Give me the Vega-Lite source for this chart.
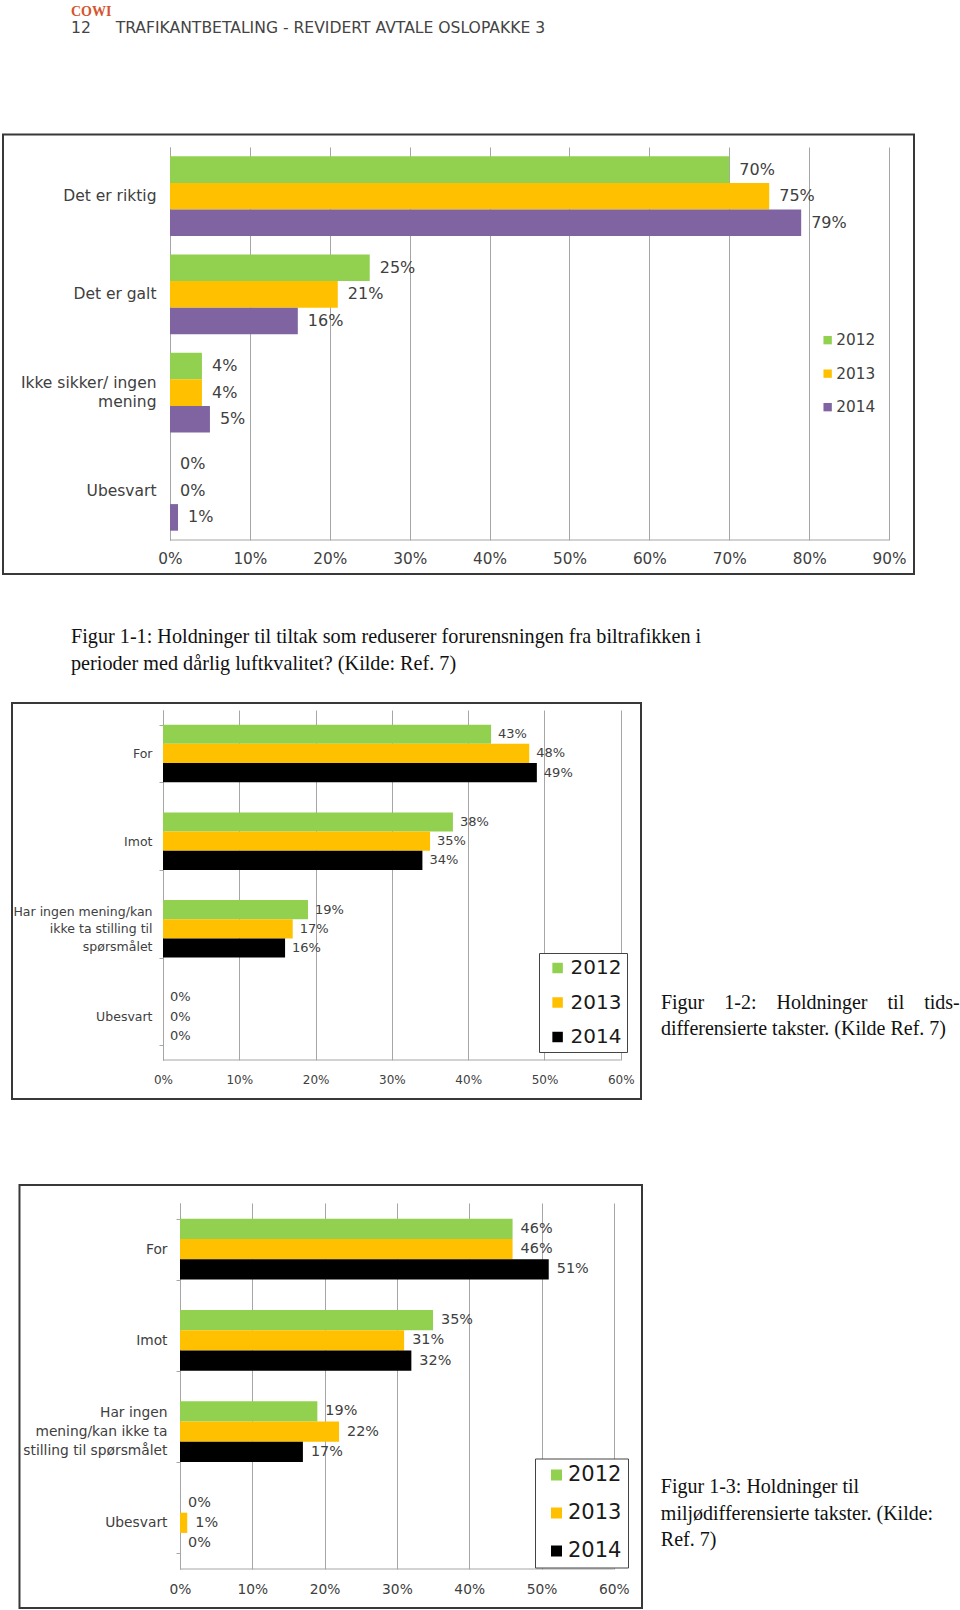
{
  "$schema": "https://vega.github.io/schema/vega-lite/v6.json",
  "background": "white",
  "padding": {"left": 2, "top": 5, "right": 0, "bottom": 0},
  "datasets": {
    "f1": [
      {"cat": "Det er riktig", "year": "2012", "share": 0.70},
      {"cat": "Det er riktig", "year": "2013", "share": 0.75},
      {"cat": "Det er riktig", "year": "2014", "share": 0.79},
      {"cat": "Det er galt", "year": "2012", "share": 0.25},
      {"cat": "Det er galt", "year": "2013", "share": 0.21},
      {"cat": "Det er galt", "year": "2014", "share": 0.16},
      {"cat": "Ikke sikker/ ingen mening", "year": "2012", "share": 0.04},
      {"cat": "Ikke sikker/ ingen mening", "year": "2013", "share": 0.04},
      {"cat": "Ikke sikker/ ingen mening", "year": "2014", "share": 0.05},
      {"cat": "Ubesvart", "year": "2012", "share": 0.0},
      {"cat": "Ubesvart", "year": "2013", "share": 0.0},
      {"cat": "Ubesvart", "year": "2014", "share": 0.01}
    ],
    "f2": [
      {"cat": "For", "year": "2012", "share": 0.43},
      {"cat": "For", "year": "2013", "share": 0.48},
      {"cat": "For", "year": "2014", "share": 0.49},
      {"cat": "Imot", "year": "2012", "share": 0.38},
      {"cat": "Imot", "year": "2013", "share": 0.35},
      {"cat": "Imot", "year": "2014", "share": 0.34},
      {"cat": "Har ingen mening/kan ikke ta stilling til spørsmålet", "year": "2012", "share": 0.19},
      {"cat": "Har ingen mening/kan ikke ta stilling til spørsmålet", "year": "2013", "share": 0.17},
      {"cat": "Har ingen mening/kan ikke ta stilling til spørsmålet", "year": "2014", "share": 0.16},
      {"cat": "Ubesvart", "year": "2012", "share": 0.0},
      {"cat": "Ubesvart", "year": "2013", "share": 0.0},
      {"cat": "Ubesvart", "year": "2014", "share": 0.0}
    ],
    "f3": [
      {"cat": "For", "year": "2012", "share": 0.46},
      {"cat": "For", "year": "2013", "share": 0.46},
      {"cat": "For", "year": "2014", "share": 0.51},
      {"cat": "Imot", "year": "2012", "share": 0.35},
      {"cat": "Imot", "year": "2013", "share": 0.31},
      {"cat": "Imot", "year": "2014", "share": 0.32},
      {"cat": "Har ingen mening/kan ikke ta stilling til spørsmålet", "year": "2012", "share": 0.19},
      {"cat": "Har ingen mening/kan ikke ta stilling til spørsmålet", "year": "2013", "share": 0.22},
      {"cat": "Har ingen mening/kan ikke ta stilling til spørsmålet", "year": "2014", "share": 0.17},
      {"cat": "Ubesvart", "year": "2012", "share": 0.0},
      {"cat": "Ubesvart", "year": "2013", "share": 0.01},
      {"cat": "Ubesvart", "year": "2014", "share": 0.0}
    ]
  },
  "title": {
    "text": "COWI",
    "subtitle": "12\u00a0\u00a0\u00a0\u00a0\u00a0TRAFIKANTBETALING - REVIDERT AVTALE OSLOPAKKE 3",
    "anchor": "start",
    "frame": "group",
    "align": "left",
    "baseline": "top",
    "dx": 68,
    "offset": 96.5,
    "font": "Liberation Serif",
    "fontSize": 14,
    "fontWeight": "bold",
    "color": "#D4552D",
    "subtitleFont": "DejaVu Sans",
    "subtitleFontSize": 15.6,
    "subtitleColor": "#444444",
    "subtitlePadding": 2
  },
  "spacing": 26,
  "resolve": {"scale": {"color": "independent", "yOffset": "independent"}, "legend": {"color": "independent"}},
  "vconcat": [
    {
      "width": 911,
      "height": 393,
      "data": {"name": "f1"},
      "title": {
        "text": ["Figur 1-1: Holdninger til tiltak som reduserer forurensningen fra biltrafikken i", "perioder med dårlig luftkvalitet? (Kilde: Ref. 7)"],
        "orient": "bottom",
        "anchor": "start",
        "frame": "group",
        "align": "left",
        "baseline": "top",
        "dx": 68,
        "offset": 52.5,
        "font": "Liberation Serif",
        "fontSize": 20.2,
        "fontWeight": "normal",
        "color": "#111111",
        "lineHeight": 26.5
      },
      "resolve": {"scale": {"y": "independent"}},
      "layer": [
        {
          "mark": {"type": "bar"},
          "encoding": {
            "y": {
              "field": "cat", "type": "nominal", "sort": null,
              "scale": {"paddingInner": 0.1874, "paddingOuter": 0.0947},
              "axis": {
                "title": null, "offset": -167, "domain": true, "domainColor": "#a6a6a6", "domainWidth": 1,
                "ticks": false, "tickSize": 0, "labelPadding": 14, "labelFont": "DejaVu Sans", "labelFontSize": 15.5,
                "labelColor": "#404040", "labelLineHeight": 18.5, "labelLimit": 400, "grid": false,
                "labelOffset": {"condition": {"test": "datum.value == 'Ikke sikker/ ingen mening'", "value": -9.25}, "value": 0},
                "labelExpr": "datum.value == 'Ikke sikker/ ingen mening' ? ['Ikke sikker/ ingen', 'mening\u00a0\u00a0\u00a0\u00a0\u00a0\u00a0\u00a0\u00a0'] : datum.label"
              }
            },
            "yOffset": {"field": "year", "type": "nominal", "scale": {"paddingInner": 0, "paddingOuter": 0}},
            "x": {
              "field": "share", "type": "quantitative",
              "scale": {"domain": [-0.209, 0.9312], "nice": false, "zero": false},
              "axis": {
                "title": null, "values": [0, 0.1, 0.2, 0.3, 0.4, 0.5, 0.6, 0.7, 0.8, 0.9], "format": ".0%",
                "grid": true, "gridColor": "#a6a6a6", "gridWidth": 1, "domain": false, "ticks": false, "tickSize": 0,
                "labelPadding": 11, "labelFont": "DejaVu Sans", "labelFontSize": 15.3, "labelColor": "#404040",
                "labelOverlap": false, "labelFlush": false, "labelBound": false
              }
            },
            "x2": {"datum": 0},
            "color": {
              "field": "year", "type": "nominal",
              "scale": {"domain": ["2012", "2013", "2014"], "range": ["#92D050", "#FFC000", "#8064A2"]},
              "legend": {
                "title": null, "orient": "none", "legendX": 817, "legendY": 185.5, "symbolType": "square",
                "symbolSize": 70, "symbolStrokeWidth": 0, "labelFont": "DejaVu Sans", "labelFontSize": 15.3,
                "labelColor": "#404040", "labelOffset": 1, "rowPadding": 17.5, "padding": 0
              }
            }
          }
        },
        {
          "mark": {"type": "text", "align": "left", "baseline": "middle", "dx": 10, "font": "DejaVu Sans", "fontSize": 16, "color": "#404040"},
          "encoding": {
            "y": {"field": "cat", "type": "nominal", "sort": null, "scale": {"paddingInner": 0.1874, "paddingOuter": 0.0947}, "axis": null},
            "yOffset": {"field": "year", "type": "nominal", "scale": {"paddingInner": 0, "paddingOuter": 0}},
            "x": {"field": "share", "type": "quantitative", "scale": {"domain": [-0.209, 0.9312], "nice": false, "zero": false}},
            "text": {"field": "share", "type": "quantitative", "format": ".0%"}
          }
        },
        {
          "data": {"values": [{}]},
          "layer": [
            {
              "mark": {"type": "rect", "fillOpacity": 0, "stroke": "#383838", "strokeWidth": 2},
              "encoding": {
                "x": {"datum": -0.209, "type": "quantitative", "scale": {"domain": [-0.209, 0.9312], "nice": false, "zero": false}},
                "x2": {"datum": 0.9312},
                "y": {"datum": -0.0865, "type": "quantitative", "scale": {"domain": [0, 1], "nice": false, "zero": false}, "axis": null},
                "y2": {"datum": 1.032}
              }
            },
            {
              "mark": {"type": "rule", "color": "#a6a6a6", "strokeWidth": 1},
              "encoding": {
                "x": {"datum": 0, "type": "quantitative"},
                "x2": {"datum": 0.9},
                "y": {"datum": 0, "type": "quantitative", "axis": null}
              }
            }
          ]
        }
      ]
    },
    {
      "spacing": 83,
      "resolve": {"scale": {"color": "independent", "yOffset": "independent"}, "legend": {"color": "independent"}},
      "vconcat": [
        {
          "width": 638,
          "height": 350,
          "data": {"name": "f2"},
          "title": {
            "text": ["Figur\u00a0\u00a0\u00a0\u00a01-2:\u00a0\u00a0\u00a0\u00a0Holdninger\u00a0\u00a0\u00a0\u00a0til\u00a0\u00a0\u00a0\u00a0tids-", "differensierte takster. (Kilde Ref. 7)"],
            "orient": "right",
            "anchor": "start",
            "frame": "group",
            "angle": 0,
            "align": "left",
            "baseline": "top",
            "offset": 19,
            "dx": -299,
            "dy": 283,
            "font": "Liberation Serif",
            "fontSize": 20,
            "fontWeight": "normal",
            "color": "#111111",
            "lineHeight": 26
          },
          "resolve": {"scale": {"y": "independent"}},
          "layer": [
            {
              "mark": {"type": "bar"},
              "encoding": {
                "y": {
                  "field": "cat", "type": "nominal", "sort": null,
                  "scale": {"paddingInner": 0.344, "paddingOuter": 0.1675},
                  "axis": {
                    "title": null, "offset": -160, "domain": true, "domainColor": "#a6a6a6", "domainWidth": 1,
                    "ticks": true, "tickBand": "extent", "tickSize": 4, "tickColor": "#a6a6a6",
                    "labelPadding": 7, "labelFont": "DejaVu Sans", "labelFontSize": 12.5,
                    "labelColor": "#404040", "labelLineHeight": 17.5, "labelLimit": 400, "grid": false,
                    "labelOffset": {"condition": {"test": "datum.value == 'Har ingen mening/kan ikke ta stilling til spørsmålet'", "value": -17.5}, "value": 0},
                    "labelExpr": "datum.value == 'Har ingen mening/kan ikke ta stilling til spørsmålet' ? ['Har ingen mening/kan', 'ikke ta stilling til\u00a0\u00a0\u00a0\u00a0\u00a0', 'spørsmålet\u00a0\u00a0\u00a0\u00a0\u00a0\u00a0\u00a0\u00a0\u00a0'] : datum.label"
                  }
                },
                "yOffset": {"field": "year", "type": "nominal", "scale": {"paddingInner": 0, "paddingOuter": 0}},
                "x": {
                  "field": "share", "type": "quantitative",
                  "scale": {"domain": [-0.2097, 0.6265], "nice": false, "zero": false},
                  "axis": {
                    "title": null, "values": [0, 0.1, 0.2, 0.3, 0.4, 0.5, 0.6], "format": ".0%",
                    "grid": true, "gridColor": "#a6a6a6", "gridWidth": 1, "domain": false, "ticks": false, "tickSize": 0,
                    "labelPadding": 14.3, "labelFont": "DejaVu Sans", "labelFontSize": 12, "labelColor": "#404040",
                    "labelOverlap": false, "labelFlush": false, "labelBound": false
                  }
                },
                "x2": {"datum": 0},
                "color": {
                  "field": "year", "type": "nominal",
                  "scale": {"domain": ["2012", "2013", "2014"], "range": ["#92D050", "#FFC000", "#000000"]},
                  "legend": {
                    "title": null, "orient": "none", "legendX": 536, "legendY": 243, "symbolType": "square",
                    "symbolSize": 110, "symbolStrokeWidth": 0, "symbolOffset": 3.6, "labelFont": "DejaVu Sans", "labelFontSize": 20,
                    "labelColor": "#1a1a1a", "labelOffset": 3, "rowPadding": 14.5, "padding": 5,
                    "strokeColor": "#444444", "fillColor": "#ffffff",
                    "labelExpr": "datum.label + '\u2002'"
                  }
                }
              }
            },
            {
              "mark": {"type": "text", "align": "left", "baseline": "middle", "dx": 7, "font": "DejaVu Sans", "fontSize": 13, "color": "#404040"},
              "encoding": {
                "y": {"field": "cat", "type": "nominal", "sort": null, "scale": {"paddingInner": 0.344, "paddingOuter": 0.1675}, "axis": null},
                "yOffset": {"field": "year", "type": "nominal", "scale": {"paddingInner": 0, "paddingOuter": 0}},
                "x": {"field": "share", "type": "quantitative", "scale": {"domain": [-0.2097, 0.6265], "nice": false, "zero": false}},
                "text": {"field": "share", "type": "quantitative", "format": ".0%"}
              }
            },
            {
              "data": {"values": [{}]},
              "layer": [
                {
                  "mark": {"type": "rect", "fillOpacity": 0, "stroke": "#383838", "strokeWidth": 2},
                  "encoding": {
                    "x": {"datum": -0.1979, "type": "quantitative", "scale": {"domain": [-0.2097, 0.6265], "nice": false, "zero": false}},
                    "x2": {"datum": 0.6265},
                    "y": {"datum": -0.1114, "type": "quantitative", "scale": {"domain": [0, 1], "nice": false, "zero": false}, "axis": null},
                    "y2": {"datum": 1.02}
                  }
                },
                {
                  "mark": {"type": "rule", "color": "#a6a6a6", "strokeWidth": 1},
                  "encoding": {
                    "x": {"datum": 0, "type": "quantitative"},
                    "x2": {"datum": 0.6},
                    "y": {"datum": 0, "type": "quantitative", "axis": null}
                  }
                }
              ]
            }
          ]
        },
        {
          "width": 639,
          "height": 366,
          "data": {"name": "f3"},
          "title": {
            "text": ["Figur 1-3: Holdninger til", "miljødifferensierte takster. (Kilde:", "Ref. 7)"],
            "orient": "right",
            "anchor": "start",
            "frame": "group",
            "angle": 0,
            "align": "left",
            "baseline": "top",
            "offset": 19,
            "dx": -273.5,
            "dy": 274,
            "font": "Liberation Serif",
            "fontSize": 20,
            "fontWeight": "normal",
            "color": "#111111",
            "lineHeight": 26.5
          },
          "resolve": {"scale": {"y": "independent"}},
          "layer": [
            {
              "mark": {"type": "bar"},
              "encoding": {
                "y": {
                  "field": "cat", "type": "nominal", "sort": null,
                  "scale": {"paddingInner": 0.334, "paddingOuter": 0.1735},
                  "axis": {
                    "title": null, "offset": -177, "domain": true, "domainColor": "#a6a6a6", "domainWidth": 1,
                    "ticks": true, "tickBand": "extent", "tickSize": 4, "tickColor": "#a6a6a6",
                    "labelPadding": 9, "labelFont": "DejaVu Sans", "labelFontSize": 13.8,
                    "labelColor": "#404040", "labelLineHeight": 19, "labelLimit": 400, "grid": false,
                    "labelOffset": {"condition": {"test": "datum.value == 'Har ingen mening/kan ikke ta stilling til spørsmålet'", "value": -19}, "value": 0},
                    "labelExpr": "datum.value == 'Har ingen mening/kan ikke ta stilling til spørsmålet' ? ['Har ingen\u00a0\u00a0\u00a0\u00a0\u00a0\u00a0\u00a0\u00a0\u00a0', 'mening/kan ikke ta\u00a0', 'stilling til spørsmålet'] : datum.label"
                  }
                },
                "yOffset": {"field": "year", "type": "nominal", "scale": {"paddingInner": 0, "paddingOuter": 0}},
                "x": {
                  "field": "share", "type": "quantitative",
                  "scale": {"domain": [-0.2448, 0.639], "nice": false, "zero": false},
                  "axis": {
                    "title": null, "values": [0, 0.1, 0.2, 0.3, 0.4, 0.5, 0.6], "format": ".0%",
                    "grid": true, "gridColor": "#a6a6a6", "gridWidth": 1, "domain": false, "ticks": false, "tickSize": 0,
                    "labelPadding": 13.2, "labelFont": "DejaVu Sans", "labelFontSize": 13.8, "labelColor": "#404040",
                    "labelOverlap": false, "labelFlush": false, "labelBound": false
                  }
                },
                "x2": {"datum": 0},
                "color": {
                  "field": "year", "type": "nominal",
                  "scale": {"domain": ["2012", "2013", "2014"], "range": ["#92D050", "#FFC000", "#000000"]},
                  "legend": {
                    "title": null, "orient": "none", "legendX": 532, "legendY": 255.5, "symbolType": "square",
                    "symbolSize": 121, "symbolStrokeWidth": 0, "symbolOffset": 5, "labelFont": "DejaVu Sans", "labelFontSize": 21,
                    "labelColor": "#1a1a1a", "labelOffset": 1, "rowPadding": 16, "padding": 6,
                    "strokeColor": "#444444", "fillColor": "#ffffff"
                  }
                }
              }
            },
            {
              "mark": {"type": "text", "align": "left", "baseline": "middle", "dx": 8, "font": "DejaVu Sans", "fontSize": 14.4, "color": "#404040"},
              "encoding": {
                "y": {"field": "cat", "type": "nominal", "sort": null, "scale": {"paddingInner": 0.334, "paddingOuter": 0.1735}, "axis": null},
                "yOffset": {"field": "year", "type": "nominal", "scale": {"paddingInner": 0, "paddingOuter": 0}},
                "x": {"field": "share", "type": "quantitative", "scale": {"domain": [-0.2448, 0.639], "nice": false, "zero": false}},
                "text": {"field": "share", "type": "quantitative", "format": ".0%"}
              }
            },
            {
              "data": {"values": [{}]},
              "layer": [
                {
                  "mark": {"type": "rect", "fillOpacity": 0, "stroke": "#383838", "strokeWidth": 2},
                  "encoding": {
                    "x": {"datum": -0.222, "type": "quantitative", "scale": {"domain": [-0.2448, 0.639], "nice": false, "zero": false}},
                    "x2": {"datum": 0.639},
                    "y": {"datum": -0.1066, "type": "quantitative", "scale": {"domain": [0, 1], "nice": false, "zero": false}, "axis": null},
                    "y2": {"datum": 1.0492}
                  }
                },
                {
                  "mark": {"type": "rule", "color": "#a6a6a6", "strokeWidth": 1},
                  "encoding": {
                    "x": {"datum": 0, "type": "quantitative"},
                    "x2": {"datum": 0.6},
                    "y": {"datum": 0, "type": "quantitative", "axis": null}
                  }
                }
              ]
            }
          ]
        }
      ]
    }
  ],
  "config": {
    "view": {"stroke": null},
    "font": "DejaVu Sans"
  }
}
